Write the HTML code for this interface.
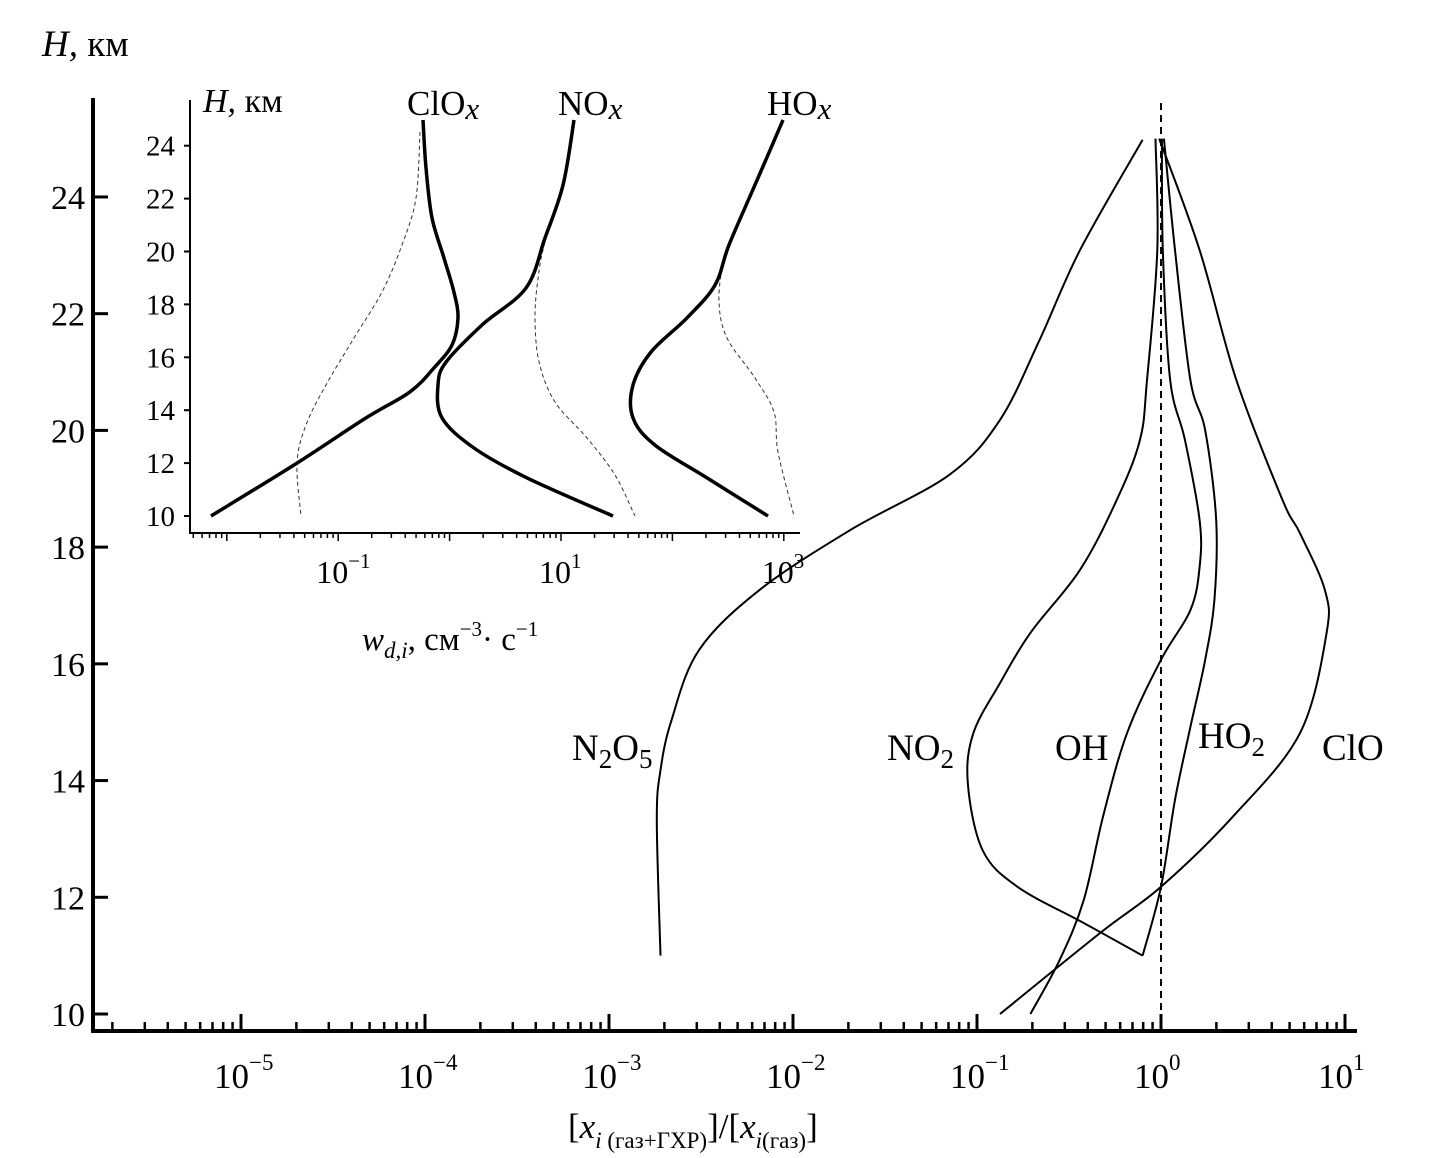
<!DOCTYPE html>
<html><head><meta charset="utf-8"><style>
html,body{margin:0;padding:0;background:#fff;}
svg{display:block;font-family:"Liberation Serif","DejaVu Serif",serif;}
</style></head><body>
<svg id="chart" width="1442" height="1158" viewBox="0 0 1442 1158" xmlns="http://www.w3.org/2000/svg">
<g id="main"></g>
<g id="inset"></g>
<text x="42" y="56" font-size="37"><tspan font-style="italic">H,</tspan> км</text>
<text x="568" y="1138" font-size="35">[<tspan font-style="italic">x</tspan><tspan font-size="23" dy="10"><tspan font-style="italic">i</tspan> (газ+ГХР)</tspan><tspan dy="-10">]/[</tspan><tspan font-style="italic">x</tspan><tspan font-size="23" dy="10"><tspan font-style="italic">i</tspan>(газ)</tspan><tspan dy="-10">]</tspan></text>
<text x="203" y="112" font-size="34"><tspan font-style="italic">H,</tspan> км</text>
<text x="362" y="650" font-size="33"><tspan font-style="italic">w</tspan><tspan font-style="italic" font-size="23" dy="8">d,i</tspan><tspan dy="-8">, см</tspan><tspan font-size="21" dy="-14">−3</tspan><tspan dy="14">· с</tspan><tspan font-size="21" dy="-14">−1</tspan></text>
<text x="407" y="115" font-size="35">ClO<tspan font-style="italic" font-size="31" dy="4">x</tspan></text>
<text x="558" y="115" font-size="35">NO<tspan font-style="italic" font-size="31" dy="4">x</tspan></text>
<text x="767" y="115" font-size="35">HO<tspan font-style="italic" font-size="31" dy="4">x</tspan></text>
<text x="572" y="760" font-size="37">N<tspan font-size="27" dy="8">2</tspan><tspan dy="-8">O</tspan><tspan font-size="27" dy="8">5</tspan></text>
<text x="887" y="760" font-size="37">NO<tspan font-size="27" dy="8">2</tspan></text>
<text x="1055" y="760" font-size="37">OH</text>
<text x="1198" y="748" font-size="37">HO<tspan font-size="27" dy="8">2</tspan></text>
<text x="1322" y="760" font-size="37">ClO</text>
</svg>
<script>
// Main chart data: [log10 ratio, H km]
const mainN2O5 = [[-2.72,11.0],[-2.74,13.32],[-2.72,14.18],[-2.66,15.04],[-2.51,16.24],[-2.18,17.27],[-1.69,18.29],[-1.15,19.24],[-0.875,20.18],[-0.66,21.55],[-0.44,23.09],[-0.10,24.98]];
const mainNO2 = [[-0.10,11.0],[-0.42,11.56],[-0.78,12.18],[-0.97,12.81],[-1.05,13.96],[-1.02,14.81],[-0.875,15.67],[-0.71,16.53],[-0.44,17.61],[-0.24,18.81],[-0.114,19.84],[-0.076,20.86],[-0.02,23.09],[-0.03,25.0]];
const mainOH = [[-0.71,10.0],[-0.55,10.93],[-0.42,11.95],[-0.315,13.38],[-0.185,14.81],[0.0,16.07],[0.16,16.92],[0.21,17.66],[0.21,18.46],[0.13,19.84],[0.05,20.86],[0.01,23.09],[0.005,25.0]];
const mainHO2 = [[-0.10,11.0],[0.0,12.18],[0.076,13.67],[0.16,14.92],[0.24,16.07],[0.29,17.09],[0.30,18.46],[0.24,20.0],[0.16,20.86],[0.076,23.09],[0.016,25.0]];
const mainClO = [[-0.875,10.0],[-0.33,11.39],[0.0,12.18],[0.39,13.38],[0.755,14.81],[0.90,16.53],[0.89,17.27],[0.755,18.24],[0.66,18.81],[0.41,20.86],[0.21,23.09],[-0.01,25.0]];
const mainYTicks = [10,12,14,16,18,20,22,24];
const mainXDecades = [-5,-4,-3,-2,-1,0,1];
// Inset data: [log10 w, H km]
const insClOx = [[-0.239,24.97],[-0.212,23.16],[-0.158,21.27],[-0.050,19.75],[0.039,18.47],[0.075,17.49],[0.022,16.47],[-0.140,15.6],[-0.356,14.69],[-0.750,13.71],[-1.370,12.0],[-2.142,10.0]];
const insClOxGas = [[-0.266,24.52],[-0.302,22.02],[-0.427,20.25],[-0.607,18.47],[-0.858,16.73],[-1.110,14.95],[-1.289,13.44],[-1.370,12.0],[-1.334,10.0]];
const insNOx = [[1.117,24.97],[1.018,22.51],[0.856,20.51],[0.686,18.62],[0.291,17.22],[-0.032,15.82],[-0.104,14.95],[-0.068,13.71],[0.219,12.57],[0.695,11.44],[1.467,10.0]];
const insNOxGas = [[1.117,24.97],[1.018,22.51],[0.856,20.36],[0.794,19.0],[0.767,17.49],[0.803,15.82],[0.946,14.31],[1.233,12.95],[1.485,11.55],[1.664,10.0]];
const insHOx = [[2.993,24.97],[2.741,22.51],[2.508,20.25],[2.382,18.73],[2.131,17.49],[1.808,16.2],[1.646,14.95],[1.646,13.71],[1.844,12.68],[2.311,11.44],[2.858,10.0]];
const insHOxGas = [[2.993,24.97],[2.741,22.51],[2.508,20.25],[2.454,19.6],[2.418,18.09],[2.490,16.73],[2.741,15.22],[2.912,13.93],[2.948,12.42],[3.092,10.0]];
const insYTicks = [10,12,14,16,18,20,22,24];
const insXLabels = [[-1,"−1"],[1,"1"],[3,"3"]];

const NS="http://www.w3.org/2000/svg";
function mk(parent,tag,attrs){const e=document.createElementNS(NS,tag);for(const k in attrs)e.setAttribute(k,attrs[k]);parent.appendChild(e);return e;}
const mx=l=>1161+184*l, my=h=>1014-(h-10)*58.36;
const ix=l=>561+111.4*(l-1), iy=h=>516-(h-10)*26.45;
function smooth(pts){let d="M"+pts[0][0].toFixed(1)+","+pts[0][1].toFixed(1);
 for(let i=0;i<pts.length-1;i++){const p0=pts[Math.max(0,i-1)],p1=pts[i],p2=pts[i+1],p3=pts[Math.min(pts.length-1,i+2)];
 const c1=[p1[0]+(p2[0]-p0[0])/6,p1[1]+(p2[1]-p0[1])/6],c2=[p2[0]-(p3[0]-p1[0])/6,p2[1]-(p3[1]-p1[1])/6];
 d+=" C"+c1.map(v=>v.toFixed(1))+" "+c2.map(v=>v.toFixed(1))+" "+p2.map(v=>v.toFixed(1));}return d;}
const main=document.getElementById('main'), inset=document.getElementById('inset');
let el;
el=mk(main,'line',{x1:93,y1:98,x2:93,y2:1033,stroke:'#000','stroke-width':4});


el=mk(main,'line',{x1:91,y1:1031,x2:1357,y2:1031,stroke:'#000','stroke-width':4});


mainYTicks.forEach(h=>{
 const t=mk(main,'line',{x1:93,y1:my(h),x2:108,y2:my(h),stroke:'#000','stroke-width':3});
 
 
 const tx=mk(main,'text',{x:85,y:my(h)+12,'font-size':34,'text-anchor':'end'});tx.textContent=h;
 
 
});
for(let d=-6;d<=1;d++){for(let m=1;m<=9;m++){const l=d+Math.log10(m);const x=mx(l);if(x<96||x>1352)continue;
 const major=m===1;const t=mk(main,'line',{x1:x,y1:1031,x2:x,y2:major?1014:1022,stroke:'#000','stroke-width':major?3:2.5});
 
 }}
mainXDecades.forEach(d=>{const tx=mk(main,'text',{x:mx(d)-27,y:1088,'font-size':35});
 tx.innerHTML='10<tspan font-size="23" dy="-18">'+(d<0?'−'+(-d):d)+'</tspan>';
 
 });
el=mk(main,'line',{x1:mx(0),y1:103,x2:mx(0),y2:1031,stroke:'#000','stroke-width':2,'stroke-dasharray':'7,5'});


[[mainN2O5,'n2o5'],[mainNO2,'no2'],[mainOH,'oh'],[mainHO2,'ho2'],[mainClO,'clo']].forEach(([s,n])=>{
 const p=mk(main,'path',{d:smooth(s.map(q=>[mx(q[0]),my(q[1])])),fill:'none',stroke:'#000','stroke-width':2});
 
 });
el=mk(inset,'line',{x1:190,y1:100,x2:190,y2:534,stroke:'#000','stroke-width':2});


el=mk(inset,'line',{x1:189,y1:533,x2:800,y2:533,stroke:'#000','stroke-width':2});


insYTicks.forEach(h=>{
 const t=mk(inset,'line',{x1:184,y1:iy(h),x2:190,y2:iy(h),stroke:'#000','stroke-width':2});
 
 
 const tx=mk(inset,'text',{x:175,y:iy(h)+10,'font-size':29,'text-anchor':'end'});tx.textContent=h;
 
 });
for(let d=-3;d<=3;d++){for(let m=1;m<=9;m++){const l=d+Math.log10(m);const x=ix(l);if(x<193||x>798)continue;
 const major=m===1;const t=mk(inset,'line',{x1:x,y1:533,x2:x,y2:major?541:538,stroke:'#000','stroke-width':1.5});
 
 }}
insXLabels.forEach(([d,s])=>{const tx=mk(inset,'text',{x:ix(d)-22,y:583,'font-size':32});
 tx.innerHTML='10<tspan font-size="21" dy="-15">'+s+'</tspan>';
 
 });
[[insClOxGas,'clox-gas'],[insNOxGas,'nox-gas'],[insHOxGas,'hox-gas']].forEach(([s,n])=>{
 const p=mk(inset,'path',{d:smooth(s.map(q=>[ix(q[0]),iy(q[1])])),fill:'none',stroke:'#333','stroke-width':1,'stroke-dasharray':'4,3'});
 
 });
[[insClOx,'clox'],[insNOx,'nox'],[insHOx,'hox']].forEach(([s,n])=>{
 const p=mk(inset,'path',{d:smooth(s.map(q=>[ix(q[0]),iy(q[1])])),fill:'none',stroke:'#000','stroke-width':3.5});
 
 });
</script>
</body></html>
